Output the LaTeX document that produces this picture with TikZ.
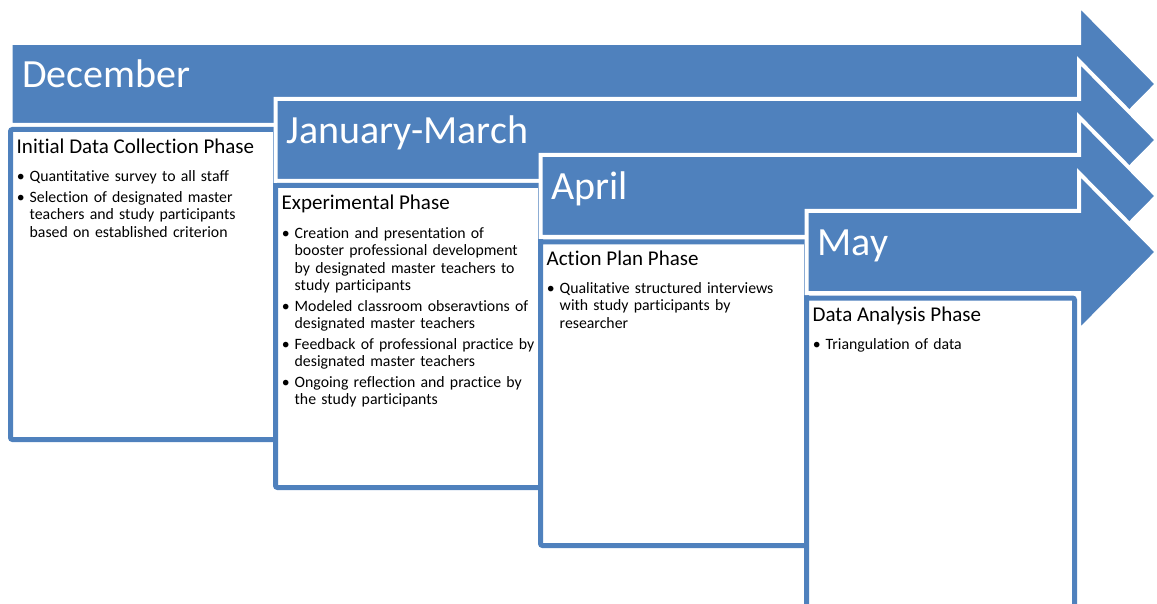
\documentclass[tikz,border=0pt]{standalone}
\usepackage{fontspec}
\setmainfont{Carlito}[Ligatures={NoCommon,NoContextual}]
\definecolor{phaseblue}{HTML}{4F81BD}
% bullet markers hanging to the left of each item
\newcommand\firstpoint{\noindent\llap{\textbullet\hspace{5pt}}}
\newcommand\nextpoint{\par\vspace{3.2pt}\noindent\llap{\textbullet\hspace{5pt}}}
\begin{document}
\begin{tikzpicture}[x=1pt,y=-1pt,
  banner/.style={fill=phaseblue,draw=white,line width=4pt,line join=miter},
  phasebox/.style={fill=white,draw=phaseblue,line width=5pt,rounded corners=2pt},
  month/.style={anchor=base west,inner sep=0pt,text=white,font=\fontsize{40}{47}\selectfont},
  phasetitle/.style={anchor=base west,inner sep=0pt,font=\fontsize{21}{25}\selectfont},
  points/.style={anchor=base west,inner sep=0pt,text width=250pt,align=left,
    font=\fontsize{15.8}{17.4}\selectfont}]
\useasboundingbox (0,0) rectangle (1157,604);
\clip (0,0) rectangle (1157,604);

% December
\draw[banner] (10.5,43) -- (1079,43) -- (1079,5) -- (1157,84) -- (1079,163)
  -- (1079,125) -- (10.5,125) -- cycle;
\draw[phasebox] (10.5,129.5) rectangle (275.5,439.5);
% January-March
\draw[banner] (275.5,99) -- (1079,99) -- (1079,61) -- (1157,140) -- (1079,219)
  -- (1079,181) -- (275.5,181) -- cycle;
\draw[phasebox] (275.5,185.5) rectangle (540.5,487.5);
% April
\draw[banner] (540.5,155) -- (1079,155) -- (1079,117) -- (1157,196) -- (1079,275)
  -- (1079,237) -- (540.5,237) -- cycle;
\draw[phasebox] (540.5,242) rectangle (806.5,545.5);
% May
\draw[banner] (806.5,211) -- (1079,211) -- (1079,173) -- (1157,252) -- (1079,331)
  -- (1079,293) -- (806.5,293) -- cycle;
\draw[phasebox] (806.5,298) rectangle (1074.5,640);

% month labels
\node[month] (month1) at (22,88) {December};
\node[month] (month2) at (286.5,143.5) {January-March};
\node[month] (month3) at (551.5,199.3) {April};
\node[month] (month4) at (817.5,255) {May};

% phase titles
\node[phasetitle] (title1) at (16.5,154) {Initial Data Collection Phase};
\node[phasetitle] (title2) at (281.5,210) {Experimental Phase};
\node[phasetitle] (title3) at (546.5,265.5) {Action Plan Phase};
\node[phasetitle] (title4) at (812.5,321.7) {Data Analysis Phase};

% phase activities
\node[points] (points1) at (29.5,181.7) {\firstpoint Quantitative survey to all staff
  \nextpoint Selection of designated master\\teachers and study participants\\based on established criterion};
\node[points] (points2) at (294.5,238.3) {\firstpoint Creation and presentation of\\booster professional development\\by designated master teachers to\\study participants
  \nextpoint Modeled classroom obseravtions of\\designated master teachers
  \nextpoint Feedback of professional practice by\\designated master teachers
  \nextpoint Ongoing reflection and practice by\\the study participants};
\node[points] (points3) at (559.5,293.3) {\firstpoint Qualitative structured interviews\\with study participants by\\researcher};
\node[points] (points4) at (825.5,349) {\firstpoint Triangulation of data};
\end{tikzpicture}
\end{document}
